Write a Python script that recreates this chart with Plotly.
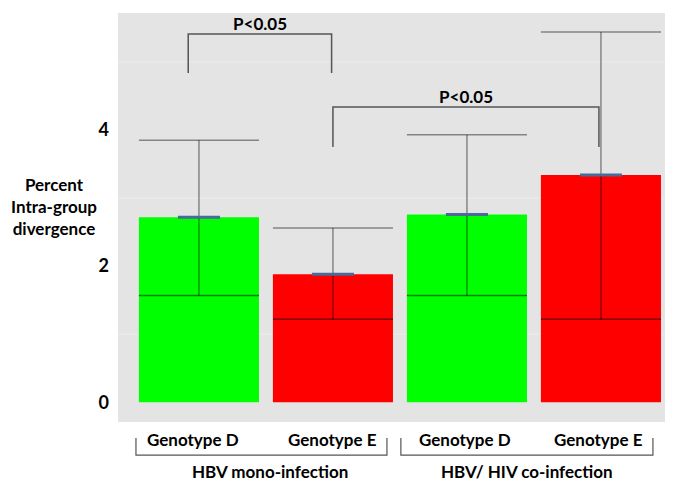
import plotly.graph_objects as go

categories = ["Genotype D", "Genotype E", "Genotype D", "Genotype E"]
groups = ["HBV mono-infection", "HBV/ HIV co-infection"]
means = [2.72, 1.88, 2.76, 3.34]
medians = [1.57, 1.22, 1.57, 1.22]
upper = [3.85, 2.56, 3.93, 5.44]
colors = ["#00ff00", "#ff0000", "#00ff00", "#ff0000"]
comparisons = [(0, 1, 5.41, 4.84), (1, 3, 4.34, 3.75)]
p_labels = ["P<0.05", "P<0.05"]
y_ticks = [0, 2, 4]

xs = list(range(len(categories)))
W = 0.896
FONT = "Lato"

fig = go.Figure()
fig.add_trace(go.Bar(x=xs, y=means, width=W, marker=dict(color=colors, line=dict(width=0)),
                     showlegend=False, hoverinfo="skip"))

vx, vy, cx, cy, mx, my, bx, by = [], [], [], [], [], [], [], []
for x, m, md, u in zip(xs, means, medians, upper):
    vx += [x, x, None]; vy += [md, u, None]
    cx += [x - W / 2, x + W / 2, None]; cy += [u, u, None]
    mx += [x - W / 2, x + W / 2, None]; my += [md, md, None]
    bx += [x - 0.157, x + 0.157, None]; by += [m, m, None]
fig.add_trace(go.Scatter(x=vx, y=vy, mode="lines", line=dict(color="rgba(0,0,0,0.42)", width=1.5),
                         showlegend=False, hoverinfo="skip"))
fig.add_trace(go.Scatter(x=cx, y=cy, mode="lines", line=dict(color="rgba(0,0,0,0.42)", width=1.5),
                         showlegend=False, hoverinfo="skip"))
fig.add_trace(go.Scatter(x=mx, y=my, mode="lines", line=dict(color="rgba(0,0,0,0.5)", width=1.5),
                         showlegend=False, hoverinfo="skip"))
fig.add_trace(go.Scatter(x=bx, y=by, mode="lines", line=dict(color="#4a6a9a", width=3),
                         showlegend=False, hoverinfo="skip"))

offs = [(-0.08, -0.01), (0.0, -0.015)]
for (a, b, top, bot), lab, (oa, ob) in zip(comparisons, p_labels, offs):
    xa, xb = xs[a] + oa, xs[b] + ob
    fig.add_trace(go.Scatter(x=[xa, xa, xb, xb], y=[bot, top, top, bot], mode="lines",
                             line=dict(color="#555555", width=1.5), showlegend=False, hoverinfo="skip"))
    fig.add_annotation(x=(xa + xb) / 2, y=top, text=f"<b>{lab}</b>", showarrow=False,
                       yanchor="bottom", yshift=-2, font=dict(family=FONT, size=17, color="black"))

label_off = [-0.045, 0.0, -0.015, -0.022]
for x, o, c in zip(xs, label_off, categories):
    fig.add_annotation(x=x + o, y=-0.0416, xref="x", yref="paper", text=f"<b>{c}</b>", showarrow=False,
                       xanchor="center", yanchor="middle",
                       font=dict(family=FONT, size=17, color="black"))
grp_span = [(-0.47, 1.403), (1.507, 3.388)]
grp_label_x = [0.53, 2.448]
for (ga, gb), gx, g in zip(grp_span, grp_label_x, groups):
    fig.add_shape(type="path", xref="x", yref="paper",
                  path=f"M {ga},-0.039 L {ga},-0.081 L {gb},-0.081 L {gb},-0.039",
                  line=dict(color="#555555", width=1.2))
    fig.add_annotation(x=gx, y=(422 - 471) / 409, xref="x", yref="paper", text=f"<b>{g}</b>",
                       xanchor="center", yanchor="middle",
                       showarrow=False, font=dict(family=FONT, size=17, color="black"))

fig.add_annotation(x=(54 - 118) / 547, y=(422 - 206) / 409, xref="paper", yref="paper",
                   xanchor="center", yanchor="middle",
                   text="<b>Percent<br>Intra-group<br>divergence</b>",
                   showarrow=False, font=dict(family=FONT, size=17, color="black"), align="center")

fig.update_layout(
    width=659, height=474,
    margin=dict(l=110, r=2, t=5, b=60),
    paper_bgcolor="white", plot_bgcolor="#e4e4e4",
    xaxis=dict(range=[-0.604, 3.478], showticklabels=False, showgrid=False, zeroline=False),
    yaxis=dict(range=[-0.29, 5.72], tickvals=y_ticks, ticktext=[f"<b>{t}</b>" for t in y_ticks],
               tickfont=dict(family=FONT, size=18, color="black"), showgrid=False, zeroline=False,
               ticks="", ticklabelstandoff=8),
    font=dict(family=FONT),
)
for g in [1, 3, 5]:
    fig.add_shape(type="line", xref="paper", yref="y", x0=0, x1=1, y0=g, y1=g,
                  line=dict(color="#ececec", width=1), layer="below")

fig.write_html("out.html")
